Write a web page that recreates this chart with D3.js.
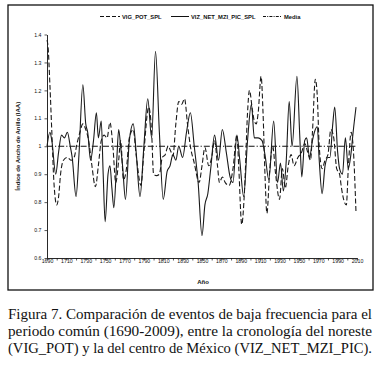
<!DOCTYPE html>
<html><head><meta charset="utf-8">
<script src="https://cdn.jsdelivr.net/npm/d3@7"></script>
<style>
html,body{margin:0;padding:0;background:#fff;}
svg{display:block;}
</style></head>
<body>
<svg id="chart" width="382" height="366"></svg>
<script>
// ---- data ----
const seriesNames = ["VIG_POT_SPL", "VIZ_NET_MZI_PIC_SPL", "Media"];
const vigYears = [1690,1691,1693,1695,1697,1700,1702,1704,1707,1711,1715,1718,1721,1724,1727,1730,1733,1736,1740,1743,1746,1749,1752,1755,1758,1761,1764,1766,1769,1772,1775,1779,1782,1787,1790,1795,1798,1800,1803,1806,1809,1812,1815,1818,1820,1823,1826,1829,1832,1835,1838,1842,1847,1850,1853,1857,1860,1863,1866,1868,1871,1874,1878,1882,1886,1888,1891,1894,1897,1899,1902,1904,1906,1908,1911,1913,1915,1917,1920,1923,1926,1930,1933,1936,1939,1942,1945,1949,1953,1956,1959,1962,1964,1967,1969,1971,1974,1977,1980,1983,1986,1989,1992,1994,1997,1999,2001,2004,2006,2009];
const vigValues = [1.38,1.36,1.22,1.05,0.88,0.79,0.82,0.90,0.95,0.96,0.95,0.96,1.01,1.05,1.08,1.06,1.02,0.94,0.855,0.93,1.02,1.04,1.03,1.085,1.00,0.87,0.95,1.02,0.88,0.92,1.03,1.06,0.97,0.86,0.98,1.14,1.05,0.90,0.895,0.90,0.96,0.97,1.00,0.98,0.965,1.08,1.16,1.15,1.17,1.08,1.00,0.94,0.87,0.93,0.995,0.93,0.96,1.02,0.93,0.87,0.89,0.87,0.86,0.92,1.04,0.92,0.72,0.85,1.12,1.20,1.13,1.09,1.08,1.12,1.25,1.12,0.90,0.76,0.92,1.00,0.90,0.81,0.92,0.85,0.93,0.97,0.93,0.96,0.98,1.01,0.98,0.95,1.05,1.24,1.18,1.00,0.92,0.95,0.97,1.06,1.03,0.92,0.90,0.85,0.80,0.79,0.92,1.05,1.00,0.76];
const vizYears = [1690,1693,1695,1699,1702,1705,1708,1711,1714,1716,1720,1723,1727,1730,1732,1735,1738,1741,1743,1746,1748,1750,1753,1755,1757,1759,1762,1764,1766,1768,1771,1775,1779,1782,1786,1790,1794,1798,1802,1806,1810,1814,1817,1820,1823,1826,1830,1834,1838,1842,1846,1850,1853,1856,1859,1863,1867,1871,1875,1879,1882,1886,1889,1893,1897,1901,1904,1908,1912,1915,1919,1924,1928,1931,1934,1937,1940,1943,1948,1951,1953,1956,1958,1961,1964,1966,1969,1971,1974,1977,1980,1982,1985,1987,1990,1992,1995,1998,2001,2004,2006,2009];
const vizValues = [1.00,1.05,1.02,0.90,0.98,1.04,1.03,1.05,1.00,0.96,0.82,0.97,1.22,1.08,1.05,0.95,1.02,1.12,1.03,1.09,0.90,0.73,0.90,0.93,0.85,0.78,0.95,1.06,1.00,0.93,0.81,1.02,1.08,0.98,0.82,1.00,1.17,1.03,1.34,1.05,0.81,0.91,0.93,0.97,0.95,1.00,0.96,1.05,1.12,1.00,0.87,0.68,0.79,0.83,0.92,1.04,0.95,1.06,0.98,0.89,0.87,1.04,0.95,0.82,1.02,1.15,1.03,1.03,1.02,0.97,0.88,1.09,0.87,0.94,0.84,0.95,1.16,1.00,1.25,1.03,0.89,1.02,1.03,0.96,1.02,1.05,1.07,0.95,0.83,0.93,0.96,0.96,1.08,1.14,0.98,0.92,0.90,1.03,0.92,0.98,1.05,1.14];
const mediaValue = 1.0;
const xDomain = [1690, 2010];
const yDomain = [0.6, 1.4];
const xTickValues = [1690,1700,1710,1720,1730,1740,1750,1760,1770,1780,1790,1800,1810,1820,1830,1840,1850,1860,1870,1880,1890,1900,1910,1920,1930,1940,1950,1960,1970,1980,1990,2000,2010];
const xTickLabels = [1690,1710,1730,1750,1770,1790,1810,1830,1850,1870,1890,1910,1930,1950,1970,1990,2010];
const yTickValues = [0.6,0.7,0.8,0.9,1.0,1.1,1.2,1.3,1.4];
const yTitle = "Índice de Ancho de Anillo (IAA)";
const xTitle = "Año";
const captionLines = [
  "Figura 7. Comparación de eventos de baja frecuencia para el",
  "periodo común (1690-2009), entre la cronología del noreste",
  "(VIG_POT) y la del centro de México (VIZ_NET_MZI_PIC)."
];

// ---- drawing ----
const svg = d3.select("#chart");
const sans = "'Liberation Sans', Arial, sans-serif";
const ink = "#111";

// frame
svg.append("rect").attr("x", 8).attr("y", 5).attr("width", 365).attr("height", 285)
  .attr("fill", "none").attr("stroke", ink).attr("stroke-width", 1.3);

const x = d3.scaleLinear().domain(xDomain).range([47, 357]);
const y = d3.scaleLinear().domain(yDomain).range([258, 34.5]);

// axes
const xAxis = d3.axisBottom(x).tickValues(xTickValues).tickSize(2.5).tickSizeOuter(0)
  .tickFormat(d => xTickLabels.includes(d) ? String(d) : "");
const gx = svg.append("g").attr("transform", `translate(0,${y(0.6)})`).call(xAxis);
gx.select(".domain").attr("stroke", ink).attr("stroke-width", 0.9);
gx.selectAll(".tick line").attr("stroke", ink).attr("stroke-width", 0.7);
gx.selectAll(".tick text").attr("font-family", sans).attr("font-size", 5.2).attr("fill", ink).attr("dy", "0.45em").attr("y", 3);

const yAxis = d3.axisLeft(y).tickValues(yTickValues).tickSize(2.5).tickSizeOuter(0)
  .tickFormat(d => d === 1 ? "1" : d3.format(".1f")(d));
const gy = svg.append("g").attr("transform", `translate(${x(1690)},0)`).call(yAxis);
gy.select(".domain").attr("stroke", ink).attr("stroke-width", 0.9);
gy.selectAll(".tick line").attr("stroke", ink).attr("stroke-width", 0.7);
gy.selectAll(".tick text").attr("font-family", sans).attr("font-size", 5.2).attr("fill", ink).attr("x", -5.5);

// titles
svg.append("text").attr("transform", `translate(20,${y(1.0)}) rotate(-90)`)
  .attr("text-anchor", "middle").attr("font-family", sans).attr("font-size", 6)
  .attr("font-weight", "bold").attr("fill", ink).text(yTitle);
svg.append("text").attr("x", 203).attr("y", 284).attr("text-anchor", "middle")
  .attr("font-family", sans).attr("font-size", 6).attr("font-weight", "bold").attr("fill", ink).text(xTitle);

// media line
svg.append("line").attr("x1", x(1690)).attr("x2", x(2010)).attr("y1", y(mediaValue)).attr("y2", y(mediaValue))
  .attr("stroke", ink).attr("stroke-width", 1.1).attr("stroke-dasharray", "6,2,1.2,2");

const line = d3.line().x(d => x(d[0])).y(d => y(d[1])).curve(d3.curveMonotoneX);
const vizData = vizYears.map((yr, i) => [yr, vizValues[i]]);
const vigData = vigYears.map((yr, i) => [yr, vigValues[i]]);

svg.append("path").datum(vizData).attr("d", line).attr("fill", "none")
  .attr("stroke", "#1a1a1a").attr("stroke-width", 1.1);
svg.append("path").datum(vigData).attr("d", line).attr("fill", "none")
  .attr("stroke", "#1a1a1a").attr("stroke-width", 1.1).attr("stroke-dasharray", "5,2.5");

// legend
const legend = [
  {name: seriesNames[0], x1: 100, x2: 120, dash: "4,2"},
  {name: seriesNames[1], x1: 171, x2: 189, dash: null},
  {name: seriesNames[2], x1: 263, x2: 282, dash: "3,1.2,1,1.2"}
];
legend.forEach(l => {
  svg.append("line").attr("x1", l.x1).attr("x2", l.x2).attr("y1", 16.5).attr("y2", 16.5)
    .attr("stroke", ink).attr("stroke-width", 1).attr("stroke-dasharray", l.dash);
  svg.append("text").attr("x", l.x2 + 2).attr("y", 18.5).attr("font-family", sans)
    .attr("font-size", 5.8).attr("font-weight", "bold").attr("fill", ink).text(l.name);
});

// caption
const capY = [319, 336, 353];
captionLines.forEach((t, i) => {
  svg.append("text").attr("x", 8).attr("y", capY[i])
    .attr("font-family", "'Liberation Serif', 'Times New Roman', serif").attr("font-size", 14.5)
    .attr("fill", "#111").attr("textLength", 364).attr("lengthAdjust", "spacingAndGlyphs").text(t);
});
</script>
</body></html>
